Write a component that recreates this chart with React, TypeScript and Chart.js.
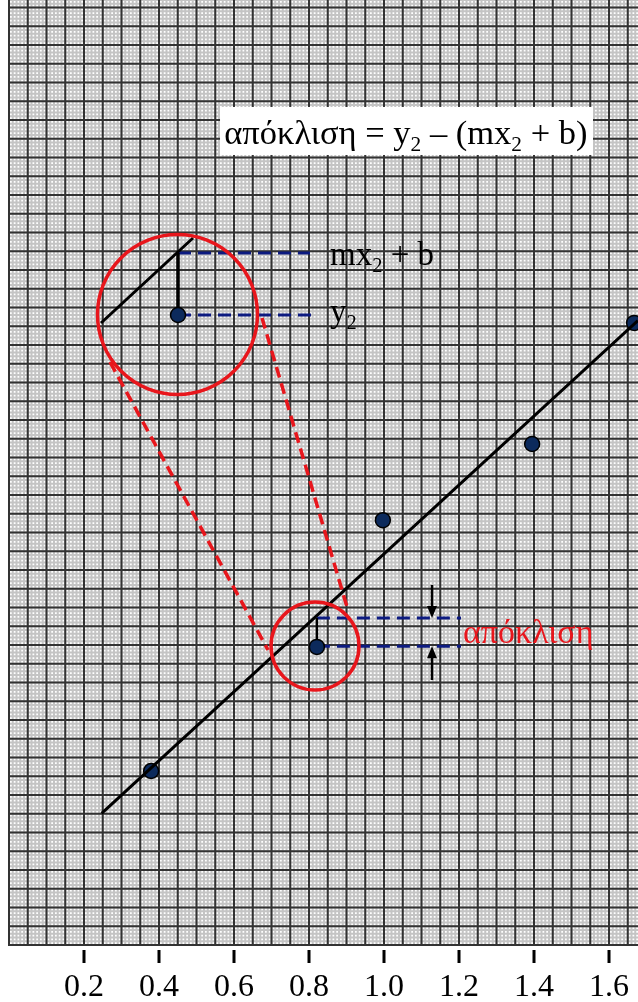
import React, { useEffect, useRef } from "react";
import { Chart, registerables } from "chart.js";

Chart.register(...registerables);

// ---------- data ----------
const xTickValues = [0.2, 0.4, 0.6, 0.8, 1.0, 1.2, 1.4, 1.6];
const pointX = [0.379, 0.821, 0.997, 1.395, 1.667];
const pointY = [0.464, 0.795, 1.133, 1.336, 1.659];
const fitX = [0.247, 1.677];
const fitY = [0.351, 1.665];

// ---------- axis ranges ----------
const X_MIN = 0;
const X_MAX = 1.6773;
const Y_MIN = 0;
const Y_MAX = 2.52;
const MAJOR_STEP = 0.05;
const MINOR_PER_MAJOR = 5;

// ---------- annotation geometry (data units) ----------
const insetCircle = { x: 0.4493, y: 1.6813, r: 0.2133 };
const zoomCircle = { x: 0.816, y: 0.7973, r: 0.1173 };
const insetLineX = [0.2453, 0.4907];
const insetLineY = [1.6587, 1.8853];
const insetPoint = { x: 0.4507, y: 1.68 };
const insetFitY = 1.8453;
const insetDashEndX = [0.8027, 0.8107];
const zoomVertTopY = 0.872;
const zoomDashEndX = 1.2053;
const zoomDashY = [0.872, 0.797];
const arrowX = 1.128;
const arrowUpper = [0.96, 0.872];
const arrowLower = [0.7067, 0.797];
const redDashLeft = { x1: 0.2693, y1: 1.5547, x2: 0.6907, y2: 0.7867 };
const redDashRight = { x1: 0.6747, y1: 1.672, x2: 0.9013, y2: 0.9013 };
const formulaBox = { x1: 0.5627, y1: 2.2347, x2: 1.5573, y2: 2.1067 };
const formulaAt = { x: 0.574, y: 2.136 };
const mxLabelAt = { x: 0.856, y: 1.8133 };
const y2LabelAt = { x: 0.856, y: 1.6613 };
const devLabelAt = { x: 1.2107, y: 0.8053 };

const SERIF = '"Liberation Serif", "Times New Roman", serif';
const RED = "#e8161c";
const NAVY = "#0c1a80";

type Seg = { t: string; sub?: boolean };

function drawRich(ctx: CanvasRenderingContext2D, segs: Seg[], x: number, y: number, size: number, color: string) {
  let cx = x;
  ctx.fillStyle = color;
  ctx.textBaseline = "alphabetic";
  ctx.textAlign = "left";
  for (const s of segs) {
    const fs = s.sub ? size * 0.62 : size;
    ctx.font = `${fs}px ${SERIF}`;
    const dy = s.sub ? size * 0.2 : 0;
    ctx.fillText(s.t, cx, y + dy);
    cx += ctx.measureText(s.t).width;
  }
}

const paperPlugin = {
  id: "paper",
  beforeDatasetsDraw(chart: any) {
    const { ctx, chartArea } = chart;
    const xs = chart.scales.x;
    const ys = chart.scales.y;
    const X = (v: number) => xs.getPixelForValue(v);
    const Y = (v: number) => ys.getPixelForValue(v);
    ctx.save();
    ctx.beginPath();
    ctx.rect(chartArea.left - 2, chartArea.top, chartArea.right - chartArea.left + 2, chartArea.bottom - chartArea.top + 2);
    ctx.clip();
    ctx.fillStyle = "#ffffff";
    ctx.fillRect(chartArea.left, chartArea.top, chartArea.right - chartArea.left, chartArea.bottom - chartArea.top);
    const minor = MAJOR_STEP / MINOR_PER_MAJOR;
    // fine grid
    ctx.strokeStyle = "#c4c4c4";
    ctx.lineWidth = 2;
    ctx.beginPath();
    for (let i = 0; i * minor <= X_MAX + 1e-9; i++) {
      const p = X(i * minor);
      ctx.moveTo(p, chartArea.top);
      ctx.lineTo(p, chartArea.bottom);
    }
    for (let i = 0; i * minor <= Y_MAX + 1e-9; i++) {
      const p = Y(i * minor);
      ctx.moveTo(chartArea.left, p);
      ctx.lineTo(chartArea.right, p);
    }
    ctx.stroke();
    // major grid
    ctx.strokeStyle = "#333333";
    ctx.lineWidth = 2;
    ctx.beginPath();
    for (let i = 0; i * MAJOR_STEP <= X_MAX + 1e-9; i++) {
      const p = X(i * MAJOR_STEP);
      ctx.moveTo(p, chartArea.top);
      ctx.lineTo(p, chartArea.bottom + 1);
    }
    for (let i = 0; i * MAJOR_STEP <= Y_MAX + 1e-9; i++) {
      const p = Y(i * MAJOR_STEP);
      ctx.moveTo(chartArea.left - 1, p);
      ctx.lineTo(chartArea.right, p);
    }
    ctx.stroke();
    ctx.restore();

    // annotations under the data marks
    ctx.save();
    // red dashed connectors
    ctx.strokeStyle = RED;
    ctx.lineWidth = 3.5;
    ctx.setLineDash([11, 6]);
    for (const d of [redDashLeft, redDashRight]) {
      ctx.beginPath();
      ctx.moveTo(X(d.x1), Y(d.y1));
      ctx.lineTo(X(d.x2), Y(d.y2));
      ctx.stroke();
    }
    // blue dashed lines
    ctx.strokeStyle = NAVY;
    ctx.lineWidth = 3;
    ctx.setLineDash([13, 7]);
    ctx.beginPath();
    ctx.moveTo(X(insetPoint.x), Y(insetFitY));
    ctx.lineTo(X(insetDashEndX[0]), Y(insetFitY));
    ctx.moveTo(X(insetPoint.x), Y(insetPoint.y));
    ctx.lineTo(X(insetDashEndX[1]), Y(insetPoint.y));
    ctx.moveTo(X(pointX[1]), Y(zoomDashY[0]));
    ctx.lineTo(X(zoomDashEndX), Y(zoomDashY[0]));
    ctx.moveTo(X(pointX[1]), Y(zoomDashY[1]));
    ctx.lineTo(X(zoomDashEndX), Y(zoomDashY[1]));
    ctx.stroke();
    ctx.setLineDash([]);
    // inset line and vertical residual
    ctx.strokeStyle = "#000";
    ctx.lineWidth = 3;
    ctx.beginPath();
    ctx.moveTo(X(insetLineX[0]), Y(insetLineY[0]));
    ctx.lineTo(X(insetLineX[1]), Y(insetLineY[1]));
    ctx.stroke();
    ctx.lineWidth = 3.5;
    ctx.beginPath();
    ctx.moveTo(X(insetPoint.x), Y(insetPoint.y));
    ctx.lineTo(X(insetPoint.x), Y(insetFitY));
    ctx.stroke();
    ctx.lineWidth = 2.5;
    ctx.beginPath();
    ctx.moveTo(X(pointX[1]), Y(pointY[1]));
    ctx.lineTo(X(pointX[1]), Y(zoomVertTopY));
    ctx.stroke();
    // arrows
    const arrow = (x: number, y1: number, y2: number) => {
      const ax = X(x), a1 = Y(y1), a2 = Y(y2);
      const dir = a2 > a1 ? 1 : -1;
      ctx.strokeStyle = "#000";
      ctx.fillStyle = "#000";
      ctx.lineWidth = 2.5;
      ctx.beginPath();
      ctx.moveTo(ax, a1);
      ctx.lineTo(ax, a2 - dir * 8);
      ctx.stroke();
      ctx.beginPath();
      ctx.moveTo(ax, a2);
      ctx.lineTo(ax - 5, a2 - dir * 12);
      ctx.lineTo(ax + 5, a2 - dir * 12);
      ctx.closePath();
      ctx.fill();
    };
    arrow(arrowX, arrowUpper[0], arrowUpper[1]);
    arrow(arrowX, arrowLower[0], arrowLower[1]);
    ctx.restore();
  },
  afterDatasetsDraw(chart: any) {
    const { ctx } = chart;
    const xs = chart.scales.x;
    const ys = chart.scales.y;
    const X = (v: number) => xs.getPixelForValue(v);
    const Y = (v: number) => ys.getPixelForValue(v);
    const unit = X(1) - X(0);
    ctx.save();
    // inset point
    ctx.beginPath();
    ctx.arc(X(insetPoint.x), Y(insetPoint.y), 7.5, 0, Math.PI * 2);
    ctx.fillStyle = "#0c2a5c";
    ctx.fill();
    ctx.lineWidth = 1.5;
    ctx.strokeStyle = "#000";
    ctx.stroke();
    // red circles
    ctx.strokeStyle = RED;
    ctx.lineWidth = 3.5;
    for (const c of [insetCircle, zoomCircle]) {
      ctx.beginPath();
      ctx.arc(X(c.x), Y(c.y), c.r * unit, 0, Math.PI * 2);
      ctx.stroke();
    }
    // formula box
    ctx.fillStyle = "#ffffff";
    ctx.fillRect(X(formulaBox.x1), Y(formulaBox.y1), X(formulaBox.x2) - X(formulaBox.x1), Y(formulaBox.y2) - Y(formulaBox.y1));
    drawRich(ctx, [
      { t: "απόκλιση = y" }, { t: "2", sub: true }, { t: " – (mx" }, { t: "2", sub: true }, { t: " + b)" },
    ], X(formulaAt.x), Y(formulaAt.y), 34.5, "#000");
    drawRich(ctx, [{ t: "mx" }, { t: "2", sub: true }, { t: " + b" }], X(mxLabelAt.x), Y(mxLabelAt.y), 33, "#000");
    drawRich(ctx, [{ t: "y" }, { t: "2", sub: true }], X(y2LabelAt.x), Y(y2LabelAt.y), 33, "#000");
    drawRich(ctx, [{ t: "απόκλιση" }], X(devLabelAt.x), Y(devLabelAt.y), 34, RED);
    ctx.restore();
  },
  afterDraw(chart: any) {
    const { ctx, chartArea } = chart;
    const xs = chart.scales.x;
    ctx.save();
    ctx.strokeStyle = "#000";
    ctx.lineWidth = 3;
    ctx.beginPath();
    for (const v of xTickValues) {
      const p = xs.getPixelForValue(v);
      ctx.moveTo(p, chartArea.bottom + 5);
      ctx.lineTo(p, chartArea.bottom + 18);
    }
    ctx.stroke();
    ctx.restore();
  },
};

export default function App() {
  const ref = useRef<HTMLCanvasElement | null>(null);
  useEffect(() => {
    if (!ref.current) return;
    const chart = new Chart(ref.current, {
      type: "scatter",
      data: {
        datasets: [
          {
            type: "line",
            data: fitX.map((x, i) => ({ x, y: fitY[i] })),
            borderColor: "#000",
            borderWidth: 3,
            pointRadius: 0,
            fill: false,
          } as any,
          {
            data: pointX.map((x, i) => ({ x, y: pointY[i] })),
            pointRadius: 7.5,
            pointHoverRadius: 7.5,
            backgroundColor: "#0c2a5c",
            borderColor: "#000",
            borderWidth: 1.5,
          },
        ],
      },
      options: {
        animation: false,
        responsive: false,
        maintainAspectRatio: false,
        events: [],
        layout: { autoPadding: false, padding: { left: 9, right: 0, top: 0, bottom: 0 } },
        plugins: { legend: { display: false }, tooltip: { enabled: false } },
        scales: {
          x: {
            type: "linear",
            min: X_MIN,
            max: X_MAX,
            grid: { display: false, drawTicks: false },
            border: { display: false },
            afterBuildTicks: (s: any) => {
              s.ticks = xTickValues.map((v) => ({ value: v }));
            },
            afterFit: (s: any) => {
              s.height = 57;
              s.paddingLeft = 0;
              s.paddingRight = 0;
            },
            ticks: {
              padding: 23,
              color: "#000",
              font: { family: SERIF, size: 32 },
              maxRotation: 0,
              autoSkip: false,
              callback: (v: any) => Number(v).toFixed(1),
            },
          },
          y: {
            type: "linear",
            min: Y_MIN,
            max: Y_MAX,
            display: false,
          },
        },
      },
      plugins: [paperPlugin],
    });
    return () => chart.destroy();
  }, []);
  return (
    <div style={{ position: "fixed", left: 0, top: 0, width: 638, height: 1002, background: "#fff" }}>
      <canvas ref={ref} width={638} height={1002} style={{ display: "block", width: 638, height: 1002 }} />
    </div>
  );
}
